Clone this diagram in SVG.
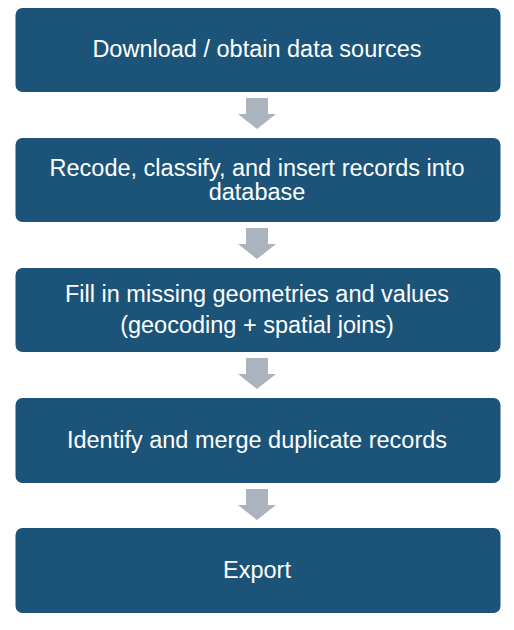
<svg xmlns="http://www.w3.org/2000/svg" width="514" height="630" viewBox="0 0 514 630">
<style>
.box{fill:#1b5478;}
.t{font-family:"Liberation Sans",Arial,sans-serif;font-size:23.5px;fill:#ffffff;text-anchor:middle;}
.arr{fill:#abb3be;}
</style>
<defs>
<path id="arrow" class="arr" d="M246,0 H268 V16 H276 L257,31 L238,16 H246 Z"/>
</defs>
<rect width="514" height="630" fill="#ffffff"/>
<g id="node1"><rect class="box" x="15.5" y="8" width="485" height="84" rx="7"/><text class="t" x="257" y="57">Download / obtain data sources</text></g>
<g id="node2"><rect class="box" x="15.5" y="138" width="485" height="84" rx="7"/><text class="t" x="257" y="176">Recode, classify, and insert records into</text><text class="t" x="257" y="200">database</text></g>
<g id="node3"><rect class="box" x="15.5" y="268" width="485" height="84" rx="7"/><text class="t" x="257" y="302">Fill in missing geometries and values</text><text class="t" x="257" y="333">(geocoding + spatial joins)</text></g>
<g id="node4"><rect class="box" x="15.5" y="398" width="485" height="85" rx="7"/><text class="t" x="257" y="448">Identify and merge duplicate records</text></g>
<g id="node5"><rect class="box" x="15.5" y="528" width="485" height="85" rx="7"/><text class="t" x="257" y="578">Export</text></g>
<g id="connectors">
<use href="#arrow" y="98"/>
<use href="#arrow" y="228"/>
<use href="#arrow" y="358"/>
<use href="#arrow" y="489"/>
</g>
</svg>
